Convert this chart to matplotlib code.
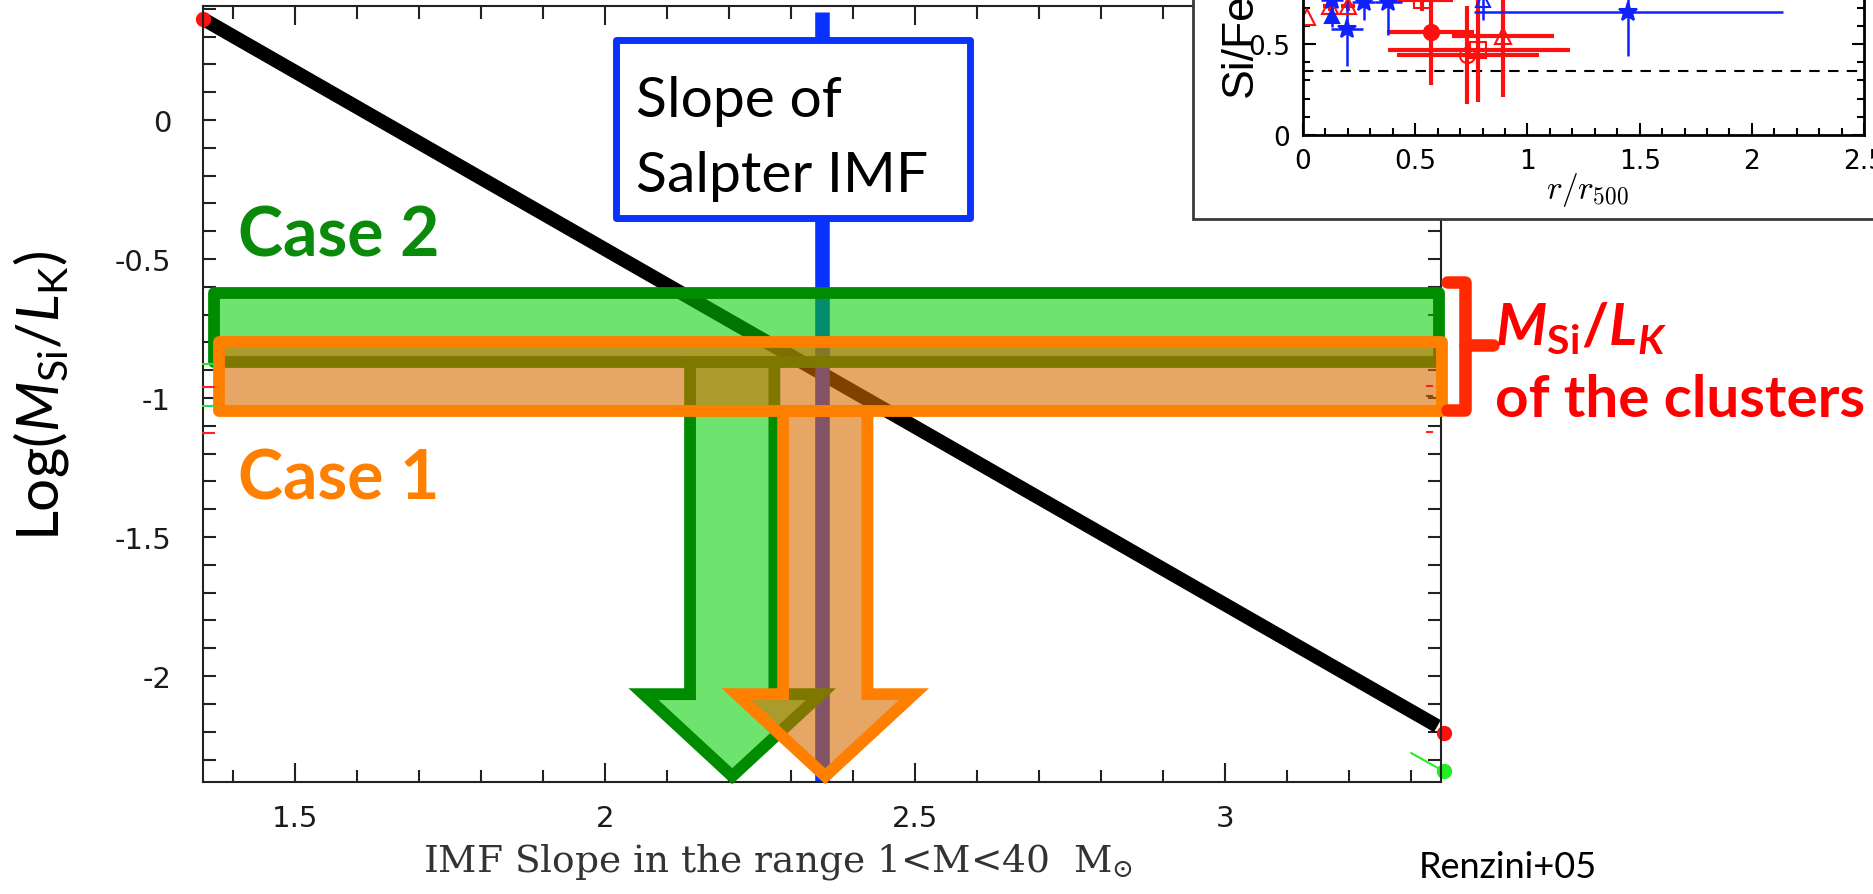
import matplotlib
matplotlib.use("Agg")
import matplotlib.pyplot as plt
from matplotlib.patches import Polygon, Rectangle
from matplotlib.ticker import MultipleLocator

plt.rcParams['font.family'] = ['Lato', 'DejaVu Sans']
plt.rcParams['mathtext.fontset'] = 'custom'
plt.rcParams['mathtext.rm'] = 'Lato'
plt.rcParams['mathtext.it'] = 'Lato:italic'
plt.rcParams['mathtext.bf'] = 'Lato:bold'
plt.rcParams['mathtext.bfit'] = 'Lato:bold:italic'
plt.rcParams['axes.unicode_minus'] = False

# model: log(M_Si/L_K) vs IMF slope (Renzini+05)
model_slope = [1.352, 3.342]
model_logm = [0.363, -2.18]
dot_slope = [1.352, 3.352]
dot_logm = [0.363, -2.205]
green_slope = [3.30, 3.352]
green_logm = [-2.277, -2.342]

salpeter_slope = 2.35

# M_Si/L_K of the clusters, two cases
case2_logm = [-0.622, -0.870]
case2_slope_span = [1.369, 3.345]
case1_logm = [-0.799, -1.047]
case1_slope_span = [1.377, 3.349]
case2_slope = 2.205
case1_slope = 2.355

left_marks = [-0.878, -0.960, -1.029, -1.126]
left_mark_colors = ['#33dd33', '#ff2020', '#33dd33', '#ff2020']
right_marks = [-0.957, -0.993, -1.122]
right_mark_colors = ['#ff2020', '#8a4a10', '#ff2020']

xticks = [1.5, 2, 2.5, 3]
xtick_labels = ['1.5', '2', '2.5', '3']
yticks = [0, -0.5, -1, -1.5, -2]
ytick_labels = ['0', '-0.5', '-1', '-1.5', '-2']

# inset: Si/Fe vs r/r500
red_r = [0.02, 0.12, 0.20, 0.53, 0.57, 0.73, 0.78, 0.89]
red_sife = [0.65, 0.71, 0.71, 0.74, 0.565, 0.44, 0.47, 0.545]
red_xlo = [0.0, 0.03, 0.03, 0.14, 0.195, 0.31, 0.40, 0.225]
red_xhi = [0.0, 0.03, 0.03, 0.14, 0.19, 0.32, 0.41, 0.23]
red_yerr = [0.0, 0.03, 0.03, 0.06, 0.29, 0.27, 0.29, 0.335]
red_marker = ['^', '^', '^', 's', 'o', 'o', 's', '^']
red_filled = [False, False, False, False, True, False, False, False]

blue_r = [0.13, 0.13, 0.196, 0.27, 0.38, 0.80, 1.45]
blue_sife = [0.655, 0.74, 0.58, 0.73, 0.73, 0.74, 0.676]
blue_xerr = [0.0, 0.05, 0.07, 0.05, 0.06, 0.0, 0.69]
blue_yerr = [0.06, 0.05, 0.2, 0.1, 0.18, 0.11, 0.24]
blue_marker = ['^', '*', '*', '*', '*', '^', '*']
blue_filled = [True, True, True, True, True, False, True]

inset_xticks = [0, 0.5, 1, 1.5, 2, 2.5]
inset_xlabels = ['0', '0.5', '1', '1.5', '2', '2.5']
inset_yticks = [0, 0.5, 1]
inset_ylabels = ['0', '0.5', '1']
sife_solar = 0.35

GREEN_FILL = (0.0, 0.82, 0.0, 0.57)
GREEN_EDGE = '#008c00'
ORANGE_FILL = (0.835, 0.42, 0.0, 0.6)
ORANGE_EDGE = '#ff7f00'


def arrow_pts(xc, y_top, y_head=-2.065, y_tip=-2.36, shaft=0.068, head=0.143):
    return [(xc - shaft, y_top), (xc - shaft, y_head), (xc - head, y_head),
            (xc, y_tip), (xc + head, y_head), (xc + shaft, y_head),
            (xc + shaft, y_top)]


fig = plt.figure(figsize=(18.74, 8.95), dpi=100)
ax = fig.add_axes([0.1083, 0.1251, 0.6607, 0.8671])
ax.set_xlim(1.3516, 3.348)
ax.set_ylim(-2.381, 0.410)

ax.set_xticks(xticks, labels=xtick_labels)
ax.set_yticks(yticks, labels=ytick_labels)
ax.xaxis.set_minor_locator(MultipleLocator(0.1))
ax.yaxis.set_minor_locator(MultipleLocator(0.1))
ax.tick_params(which='both', direction='in', top=True, right=True,
               width=1.5, color='#222222', labelcolor='#1a1a1a')
ax.tick_params(axis='x', which='major', length=14, pad=16, labelsize=21)
ax.tick_params(axis='x', which='minor', length=9)
ax.tick_params(axis='y', which='both', length=9.5)
ax.tick_params(axis='y', which='major', pad=23, labelsize=21)
for lab in ax.get_xticklabels() + ax.get_yticklabels():
    lab.set_fontfamily('DejaVu Sans')
for sp in ax.spines.values():
    sp.set_linewidth(1.5)
    sp.set_color('#222222')

# model line and end points
ax.plot(model_slope, model_logm, color='black', lw=10, solid_capstyle='butt', zorder=2)
ax.plot(dot_slope, dot_logm, 'o', color='#ff1010', ms=10, zorder=2.2, clip_on=False)
ax.plot(green_slope, green_logm, color='#22ee22', lw=1.5, zorder=2.2, clip_on=False)
ax.plot(green_slope[-1], green_logm[-1], 'o', color='#22ee22', ms=10, zorder=2.2, clip_on=False)

# Salpeter slope
ax.plot([salpeter_slope, salpeter_slope], [0.389, -2.381], color='#0a32ff', lw=10.5,
        solid_capstyle='butt', zorder=2.1, clip_on=False)

for y, c in zip(left_marks, left_mark_colors):
    ax.plot([1.3516, 1.369], [y, y], color=c, lw=1.5, zorder=4.5, clip_on=False)
for y, c in zip(right_marks, right_mark_colors):
    ax.plot([3.325, 3.333], [y, y], color=c, lw=1.5, zorder=4.5, clip_on=False)

# case 2 band + arrow
ax.add_patch(Polygon(arrow_pts(case2_slope, case2_logm[1]), closed=True, fc=GREEN_FILL,
                     ec=GREEN_EDGE, lw=8.5, joinstyle='miter', zorder=2.9, clip_on=False))
ax.add_patch(Rectangle((case2_slope_span[0], case2_logm[1]),
                       case2_slope_span[1] - case2_slope_span[0],
                       case2_logm[0] - case2_logm[1],
                       fc=GREEN_FILL, ec=GREEN_EDGE, lw=8.5, joinstyle='round',
                       zorder=3, clip_on=False))
# case 1 band + arrow
ax.add_patch(Polygon(arrow_pts(case1_slope, case1_logm[1]), closed=True, fc=ORANGE_FILL,
                     ec=ORANGE_EDGE, lw=8.5, joinstyle='miter', zorder=3.9, clip_on=False))
ax.add_patch(Rectangle((case1_slope_span[0], case1_logm[1]),
                       case1_slope_span[1] - case1_slope_span[0],
                       case1_logm[0] - case1_logm[1],
                       fc=ORANGE_FILL, ec=ORANGE_EDGE, lw=8.5, joinstyle='round',
                       zorder=4, clip_on=False))

ax.text(1.408, -0.489, 'Case 2', color='#0a8a0a', fontsize=49, fontweight='bold',
        va='baseline', zorder=7)
ax.text(1.408, -1.363, 'Case 1', color='#ff8000', fontsize=49, fontweight='bold',
        va='baseline', zorder=7)

# Salpeter label box
ax.add_patch(Rectangle((2.017, -0.354), 0.571, 0.640, fc='white', ec='#0a32ff',
                       lw=5, joinstyle='round', zorder=6, clip_on=False))
ax.text(2.05, 0.014, 'Slope of', fontsize=41, va='baseline', zorder=7)
ax.text(2.05, -0.255, 'Salpter IMF', fontsize=41, va='baseline', zorder=7)

# bracket for the cluster range
ax.plot([3.358, 3.387, 3.387, 3.358], [-0.583, -0.583, -1.043, -1.043], color='#ff2a00',
        lw=9, solid_joinstyle='round', solid_capstyle='round', zorder=5, clip_on=False)
ax.plot([3.387, 3.432], [-0.809, -0.809], color='#ff2a00', lw=9,
        solid_capstyle='round', zorder=5, clip_on=False)

fig.text(0.022, 0.558, r'Log($M_{\mathrm{Si}}/L_{\mathrm{K}}$)', rotation=90,
         ha='center', va='center', fontsize=42)
fig.text(0.415, 0.026, r'IMF Slope in the range 1<M<40  M$_{\odot}$', family='DejaVu Serif',
         math_fontfamily='dejavuserif', fontsize=27, color='#333333', ha='center', va='baseline')
fig.text(0.757, 0.019, 'Renzini+05', fontsize=26, va='baseline')
fig.text(0.7977, 0.6145, r'$\mathbfit{M}_{\mathbf{Si}}\mathbf{/}\mathbfit{L}_{\mathbfit{K}}$',
         fontsize=42, color='#ff0000', va='baseline')
fig.text(0.7977, 0.534, 'of the clusters', fontsize=42, fontweight='bold', color='#ff0000',
         va='baseline')

# inset panel
fig.add_artist(Rectangle((1193 / 1874, 1 - 220 / 895), 0.5, 0.5, transform=fig.transFigure,
                         fc='white', ec='#3a3a3a', lw=2, zorder=5))
axin = fig.add_axes([0.6953, 0.848, 0.2994, 0.244])
axin.set_zorder(6)
axin.set_xlim(0, 2.5)
axin.set_ylim(0, 1.2)
axin.set_xticks(inset_xticks, labels=inset_xlabels)
axin.set_yticks(inset_yticks, labels=inset_ylabels)
axin.xaxis.set_minor_locator(MultipleLocator(0.1))
axin.yaxis.set_minor_locator(MultipleLocator(0.1))
axin.tick_params(which='both', direction='in', top=True, right=True, width=1.5,
                 labelsize=19, pad=9)
axin.tick_params(which='major', length=9)
axin.tick_params(which='minor', length=5)
for lab in axin.get_xticklabels() + axin.get_yticklabels():
    lab.set_fontfamily('DejaVu Sans')
for sp in axin.spines.values():
    sp.set_linewidth(2)
axin.axhline(sife_solar, color='black', lw=1.5, ls=(0, (5, 4)))

for i in range(len(red_r)):
    axin.errorbar(red_r[i], red_sife[i], xerr=[[red_xlo[i]], [red_xhi[i]]],
                  yerr=red_yerr[i], fmt=red_marker[i], color='#ff1010', lw=3, ms=11,
                  mfc='#ff1010' if red_filled[i] else 'none', mew=1.5, capsize=0)
for i in range(len(blue_r)):
    axin.errorbar(blue_r[i], blue_sife[i], xerr=blue_xerr[i], yerr=blue_yerr[i],
                  fmt=blue_marker[i], color='#1020ff', lw=1.8,
                  ms=14 if blue_marker[i] == '*' else 10,
                  mfc='#1020ff' if blue_filled[i] else 'none', mew=1.5, capsize=0)

fig.text(0.6617, 0.892, 'Si/Fe', rotation=90, ha='center', va='bottom', fontsize=32,
         family='Liberation Sans', zorder=7)
fig.text(0.847, 0.778, r'$r/r_{\mathsf{500}}$', math_fontfamily='cm', fontsize=24,
         ha='center', va='baseline', zorder=7)

fig.savefig('out.png', dpi=100)
